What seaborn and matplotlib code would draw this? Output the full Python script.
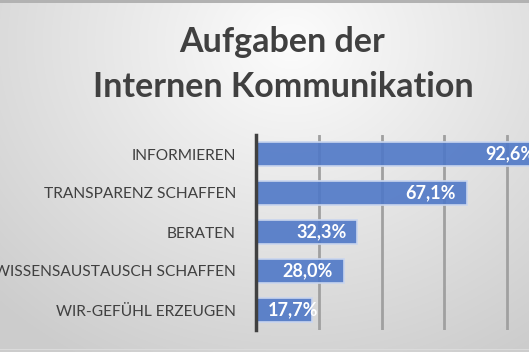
import numpy as np
import pandas as pd
import matplotlib
matplotlib.use("Agg")
import matplotlib.pyplot as plt
import seaborn as sns

title_lines = ["Aufgaben der", "Internen Kommunikation"]
categories = ["INFORMIEREN", "TRANSPARENZ SCHAFFEN", "BERATEN",
              "WISSENSAUSTAUSCH SCHAFFEN", "WIR-GEFÜHL ERZEUGEN"]
values = [92.6, 67.1, 32.3, 28.0, 17.7]
value_labels = ["92,6%", "67,1%", "32,3%", "28,0%", "17,7%"]
grid_ticks = [20, 40, 60, 80, 100]

sns.set_theme(style="white")
plt.rcParams['font.family'] = ['Lato', 'DejaVu Sans']

W, H = 529, 352
fig = plt.figure(figsize=(W / 100, H / 100), dpi=100)

# background radial gradient
bg = fig.add_axes([0, 0, 1, 1], zorder=-10)
yy, xx = np.mgrid[0:H, 0:W]
cx, cy = W * 0.55, H * 0.12
r = np.sqrt(((xx - cx) / (W * 0.8)) ** 2 + ((yy - cy) / (H * 1.05)) ** 2)
r = np.clip(r, 0, 1)
light = np.array([0.99, 0.99, 0.99])
dark = np.array([0.80, 0.80, 0.80])
img = light[None, None, :] * (1 - r[..., None]) + dark[None, None, :] * r[..., None]
img[0:3, :, :] = 0.70
img[H - 3:H - 2, :, :] = 0.86
bg.imshow(img, aspect="auto", extent=[0, W, H, 0], interpolation="bilinear")
bg.set_axis_off()

# title
fig.text(282 / W, 1 - 52 / H, title_lines[0], ha="center", va="baseline",
         fontsize=24.5, fontweight="bold", color="#404040")
fig.text(283 / W, 1 - 97 / H, title_lines[1], ha="center", va="baseline",
         fontsize=24.5, fontweight="bold", color="#404040")

# main axes (extends past right figure edge, as the reference is cropped)
ax = fig.add_axes([256 / W, 22.5 / H, 314 / W, 195 / H])
ax.patch.set_alpha(0)
df = pd.DataFrame({"cat": categories, "val": values})
sns.barplot(data=df, x="val", y="cat", orient="h", color="#4472C4",
            width=0.6, ax=ax, zorder=3, saturation=1)
for p in ax.patches:
    p.set_facecolor((0.31, 0.47, 0.78, 0.9))
    p.set_edgecolor("#c9d5ee")
    p.set_linewidth(1.2)

ax.set_xlim(0, 100)
ax.set_ylim(4.5, -0.5)
for g in grid_ticks:
    ax.axvline(g, color="#a0a0a0", lw=2, zorder=1)
ax.set_xlabel("")
ax.set_ylabel("")
ax.set_xticks([])
ax.tick_params(axis="y", length=0, pad=14.5, labelsize=11.2, labelcolor="#404040")
for s in ["top", "right", "bottom"]:
    ax.spines[s].set_visible(False)
ax.spines["left"].set_color("#404040")
ax.spines["left"].set_linewidth(2.5)
ax.spines["left"].set_zorder(5)

px = 100 / 314.0
for i, (v, lab) in enumerate(zip(values, value_labels)):
    right = v - 11 * px
    if right - 50 * px < 11.5 * px:
        ax.text(11.5 * px, i, lab, ha="left", va="center", color="white",
                fontsize=13, fontweight="bold", zorder=6)
    else:
        ax.text(right, i, lab, ha="right", va="center", color="white",
                fontsize=13, fontweight="bold", zorder=6)

fig.savefig("out.png", dpi=100)
